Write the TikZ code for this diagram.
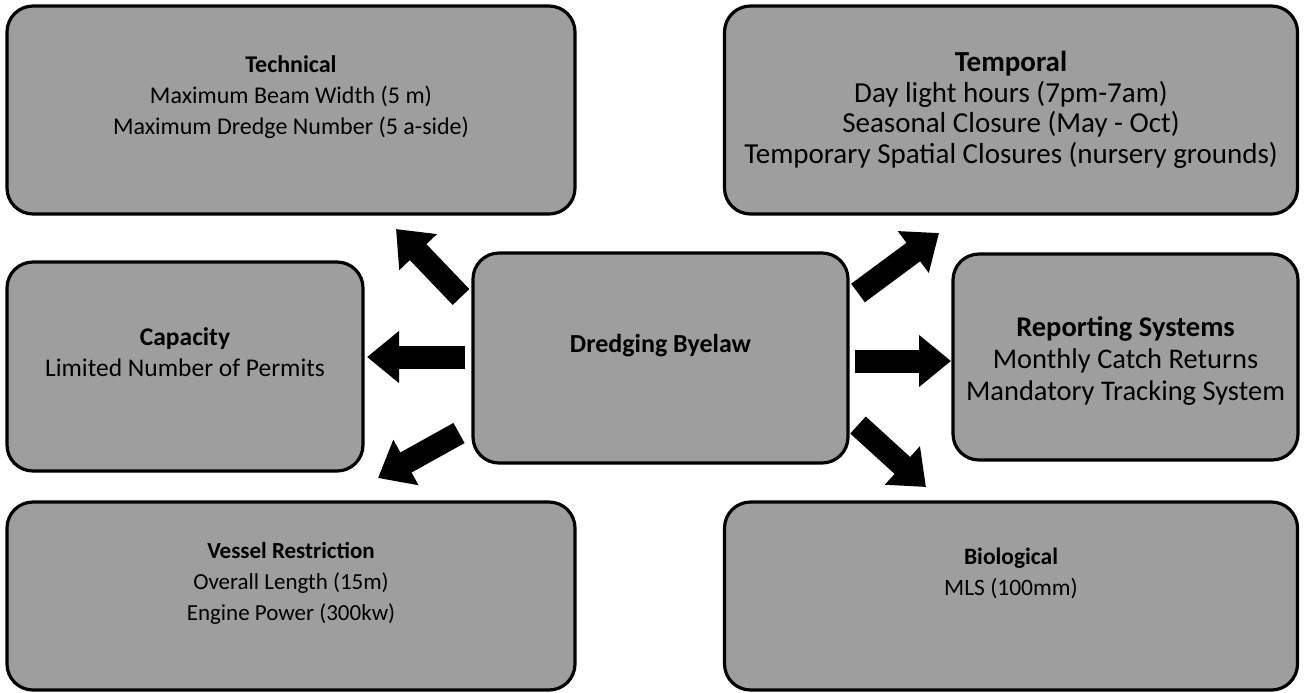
\documentclass[tikz,border=0pt]{standalone}
\usepackage{fontspec}
\setmainfont{Carlito}
\usetikzlibrary{arrows.meta}
\begin{document}
\begin{tikzpicture}[x=0.5pt,y=-0.5pt,
  box/.style={draw=black,line width=1.6pt,rounded corners=13pt,fill=black!38,inner sep=0pt},
  txt/.style={align=center,inner sep=0pt,text=black},
  blockarrow/.style={draw=black,line width=11.5pt,-{Triangle[length=16pt,width=25pt]}}]
\useasboundingbox (0,0) rectangle (1304,692);
% boxes
\node[box,minimum width=284pt,minimum height=104pt] (tech) at (291,110) {};
\node[box,minimum width=286.5pt,minimum height=104pt] (temp) at (1011,110) {};
\node[box,minimum width=178pt,minimum height=104.5pt] (cap) at (185,366.5) {};
\node[box,minimum width=187.5pt,minimum height=105pt] (main) at (660.5,358) {};
\node[box,minimum width=172.5pt,minimum height=103pt] (rep) at (1125.5,357) {};
\node[box,minimum width=284pt,minimum height=94pt] (ves) at (291,596) {};
\node[box,minimum width=286.5pt,minimum height=94pt] (bio) at (1011,596) {};
% texts
\node[txt,font=\fontsize{12}{15.5}\selectfont] (techT) at (291,97)
  {\textbf{Technical}\\Maximum Beam Width (5 m)\\Maximum Dredge Number (5 a-side)};
\node[txt,font=\fontsize{14.5}{15.3}\selectfont] (tempT) at (1011,110)
  {\textbf{Temporal}\\Day light hours (7pm-7am)\\Seasonal Closure (May - Oct)\\Temporary Spatial Closures (nursery grounds)};
\node[txt,font=\fontsize{12.75}{15.5}\selectfont] (capT) at (185,352)
  {\textbf{Capacity}\\Limited Number of Permits};
\node[txt,font=\bfseries\fontsize{13}{15.5}\selectfont] (mainT) at (660.5,346)
  {Dredging Byelaw};
\node[txt,font=\fontsize{14.25}{16}\selectfont] (repT) at (1125.5,361)
  {\textbf{Reporting Systems}\\Monthly Catch Returns\\Mandatory Tracking System};
\node[txt,font=\fontsize{11.5}{15.5}\selectfont] (vesT) at (291,583)
  {\textbf{Vessel Restriction}\\Overall Length (15m)\\Engine Power (300kw)};
\node[txt,font=\fontsize{11.75}{15.5}\selectfont] (bioT) at (1011,573)
  {\textbf{Biological}\\MLS (100mm)};
% arrow end points
\coordinate (nwS) at (461,297); \coordinate (nwE) at (396,229);
\coordinate (wS) at (465,357);  \coordinate (wE) at (367,357);
\coordinate (swS) at (459,433); \coordinate (swE) at (378,478);
\coordinate (neS) at (858,293); \coordinate (neE) at (939,233);
\coordinate (eS) at (855,361);  \coordinate (eE) at (951,361);
\coordinate (seS) at (858,425); \coordinate (seE) at (926,487);
\draw[blockarrow] (nwS) -- (nwE);
\draw[blockarrow] (wS) -- (wE);
\draw[blockarrow] (swS) -- (swE);
\draw[blockarrow] (neS) -- (neE);
\draw[blockarrow] (eS) -- (eE);
\draw[blockarrow] (seS) -- (seE);
\end{tikzpicture}
\end{document}
